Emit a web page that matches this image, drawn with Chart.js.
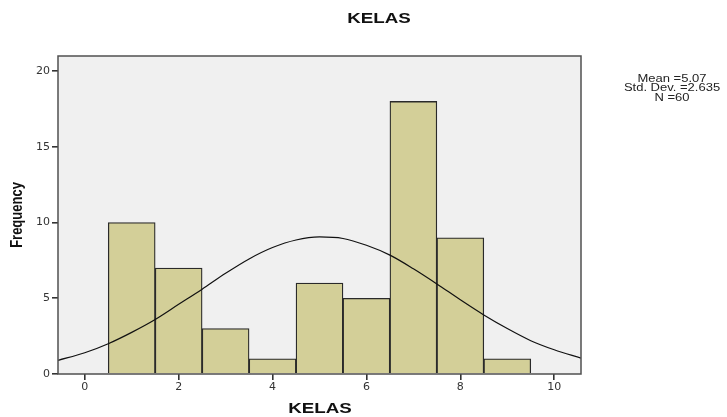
<!DOCTYPE html>
<html>
<head>
<meta charset="utf-8">
<script src="https://cdn.jsdelivr.net/npm/chart.js@4"></script>
<style>
  body { margin: 0; background: #fff; }
</style>
</head>
<body>
<canvas id="myChart" width="727" height="417"></canvas>
<script>
// histogram bins (KELAS) and their frequencies
const binCenters = [1, 2, 3, 4, 5, 6, 7, 8, 9];
const frequencies = [10, 7, 3, 1, 6, 5, 18, 9, 1];

// normal curve
const curveX = [-0.57, 0, 0.5, 1, 1.5, 2, 2.5, 3, 3.5, 4, 4.5, 5, 5.5, 6, 6.5, 7, 7.5, 8, 8.5, 9, 9.5, 10, 10.57];
const curveY = [0.9, 1.4, 2.0, 2.75, 3.6, 4.6, 5.6, 6.65, 7.6, 8.35, 8.85, 9.05, 8.95, 8.5, 7.85, 6.95, 5.95, 4.9, 3.9, 3.0, 2.2, 1.6, 1.05];

const statLines = ["Mean =5.07", "Std. Dev. =2.635", "N =60"];

const stretchText = (ctx, text, x, y, font, sx) => {
    ctx.save();
    ctx.translate(x, y);
    ctx.scale(sx, 1);
    ctx.font = font;
    ctx.fillText(text, 0, 0);
    ctx.restore();
};

// plot background, frame and the extra texts
const decor = {
    id: "decor",
    beforeDatasetsDraw(chart) {
        const { ctx, chartArea: a } = chart;
        ctx.save();
        ctx.fillStyle = "#f0f0f0";
        ctx.fillRect(a.left, a.top, a.right - a.left, a.bottom - a.top);
        ctx.restore();
    },
    afterDraw(chart) {
        const { ctx, chartArea: a } = chart;
        ctx.save();
        ctx.strokeStyle = "#505050";
        ctx.lineWidth = 1.5;
        ctx.strokeRect(a.left, a.top, a.right - a.left, a.bottom - a.top);

        ctx.fillStyle = "#111";
        ctx.textAlign = "center";
        ctx.textBaseline = "middle";
        stretchText(ctx, "KELAS", 379, 19, "bold 15px 'Liberation Sans'", 1.25);
        stretchText(ctx, "KELAS", 320, 409, "bold 15px 'Liberation Sans'", 1.25);

        ctx.save();
        ctx.translate(18, 215);
        ctx.rotate(-Math.PI / 2);
        ctx.scale(1, 1.25);
        ctx.font = "bold 13px 'Liberation Sans'";
        ctx.fillText("Frequency", 0, 0);
        ctx.restore();

        ctx.fillStyle = "#222";
        statLines.forEach((t, i) => {
            stretchText(ctx, t, 672, 79 + i * 9.5, "10px 'Liberation Sans'", 1.3);
        });
        ctx.restore();
    },
};

const data = {
    datasets: [
        {
            type: "line",
            data: curveX.map((x, i) => ({ x: x, y: curveY[i] })),
            borderColor: "#111",
            borderWidth: 1.2,
            pointRadius: 0,
            fill: false,
            cubicInterpolationMode: "monotone",
            order: 0,
        },
        {
            type: "bar",
            data: binCenters.map((x, i) => ({ x: x, y: frequencies[i] })),
            backgroundColor: "#d3cf98",
            borderColor: "#2a2a2a",
            borderWidth: 1.3,
            barPercentage: 1,
            categoryPercentage: 1,
            order: 1,
        },
    ],
};

const config = {
    type: "bar",
    data,
    plugins: [decor],
    options: {
        responsive: false,
        animation: false,
        layout: {
            padding: { top: 56, right: 146, left: 0, bottom: 0 },
        },
        plugins: {
            legend: { display: false },
            tooltip: { enabled: false },
        },
        scales: {
            x: {
                type: "linear",
                min: -0.57,
                max: 10.57,
                offset: false,
                border: { display: false },
                grid: { drawOnChartArea: false, offset: false, color: "#333", lineWidth: 1.6, tickLength: 6 },
                ticks: {
                    stepSize: 2,
                    includeBounds: false,
                    padding: 1,
                    color: "#333",
                    font: { family: "DejaVu Sans", size: 11 },
                },
                afterFit: (s) => { s.height = 43; },
            },
            y: {
                min: 0,
                max: 21,
                border: { display: false },
                grid: { drawOnChartArea: false, color: "#333", lineWidth: 1.6, tickLength: 6 },
                ticks: {
                    stepSize: 5,
                    includeBounds: false,
                    padding: 2,
                    color: "#333",
                    font: { family: "DejaVu Sans", size: 11 },
                },
                afterFit: (s) => { s.width = 58; },
            },
        },
    },
};

const ctx = document.getElementById("myChart").getContext("2d");
const histChart = new Chart(ctx, config);
</script>
</body>
</html>
